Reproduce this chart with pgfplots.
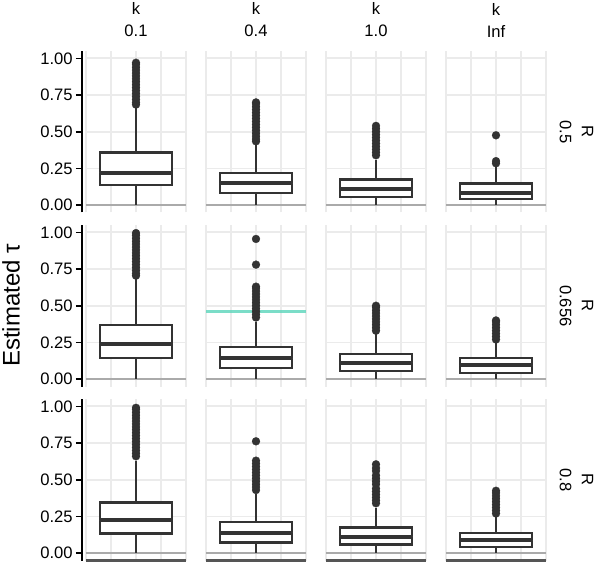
\documentclass[border=0pt]{standalone}
\usepackage{fontspec}
\setmainfont{Liberation Sans}
\usepackage{pgfplots}
\pgfplotsset{compat=1.18}
\usepgfplotslibrary{statistics}
\definecolor{boxc}{HTML}{333333}
\definecolor{gridc}{HTML}{EBEBEB}
\definecolor{zeroc}{HTML}{AAAAAA}
\definecolor{botc}{HTML}{555555}
\definecolor{tealc}{RGB}{100,215,190}
\newcommand\tickfont{\fontsize{8.3}{10}\selectfont}
\newcommand\stripfont{\fontsize{8.3}{11}\selectfont}
\pgfplotsset{
 panel/.style={scale only axis, width=50pt, height=80.75pt, anchor=south west,
  xmin=0,xmax=4,ymin=-0.05,ymax=1.05,
  xtick={0,1,2,3,4}, xticklabels={}, xtick style={draw=none},
  ytick={0,0.25,0.5,0.75,1}, yticklabels={0.00,0.25,0.50,0.75,1.00},
  grid=major, major grid style={draw=gridc, line width=0.9pt},
  axis x line*=bottom, axis y line*=left,
  x axis line style={draw=none},
  tick align=outside, major tick length=3pt,
  ytick style={draw=black, line width=0.8pt},
  yticklabel style={font=\tickfont, inner sep=1.5pt},
  /pgf/number format/assume math mode=true,
 },
 firstcol/.style={axis y line shift=2pt, y axis line style={draw=black, line width=0.8pt}},
 othercol/.style={y axis line style={draw=none}, ytick style={draw=none}, yticklabels={}},
 lastrow/.style={x axis line style={draw=botc, line width=1.5pt}},
 bx/.style={draw=boxc, fill=white, line width=1.1pt, solid, mark=*, mark size=2pt,
   mark options={fill=boxc, draw=boxc, line width=0.1pt},
   boxplot/draw direction=y, boxplot/draw position=2, boxplot/box extend=2.9,
   boxplot/whisker extend=0,
   boxplot/every median/.style={line width=2pt}},
}
% #1 x, #2 y, #3 style, #4 lq, #5 median, #6 uq, #7 upper whisker, #8 outliers, #9 extra
\newcommand\panel[9]{%
 \begin{axis}[panel,#3,at={(#1,#2)}]
 \addplot[draw=zeroc, line width=1.1pt, forget plot] coordinates {(0,0) (4,0)};
 \addplot[bx, boxplot prepared={lower whisker=0, lower quartile=#4, median=#5, upper quartile=#6, upper whisker=#7}] table[row sep=\\, y index=0] {#8};
 #9
 \end{axis}}
\begin{document}
\begin{tikzpicture}
\useasboundingbox (0,0) rectangle (300pt,281.5pt);
% Row 1: R = 0.5
\panel{43pt}{175.25pt}{firstcol}{0.14}{0.22}{0.358}{0.66}{0.685\\0.70\\0.72\\0.74\\0.76\\0.78\\0.80\\0.82\\0.84\\0.86\\0.88\\0.90\\0.92\\0.94\\0.96\\0.97\\}{}
\panel{103pt}{175.25pt}{othercol}{0.084}{0.148}{0.22}{0.42}{0.435\\0.45\\0.47\\0.49\\0.51\\0.53\\0.55\\0.57\\0.59\\0.61\\0.63\\0.65\\0.67\\0.69\\0.70\\}{}
\panel{163pt}{175.25pt}{othercol}{0.057}{0.109}{0.175}{0.31}{0.34\\0.36\\0.38\\0.40\\0.42\\0.44\\0.46\\0.48\\0.50\\0.52\\0.54\\}{}
\panel{223pt}{175.25pt}{othercol}{0.043}{0.086}{0.148}{0.26}{0.285\\0.30\\0.476\\}{}
% Row 2: R = 0.656
\panel{43pt}{88.25pt}{firstcol}{0.142}{0.24}{0.37}{0.68}{0.705\\0.72\\0.74\\0.76\\0.78\\0.80\\0.82\\0.84\\0.86\\0.88\\0.90\\0.92\\0.94\\0.96\\0.98\\0.995\\}{}
\panel{103pt}{88.25pt}{othercol}{0.077}{0.142}{0.217}{0.39}{0.42\\0.44\\0.46\\0.48\\0.50\\0.52\\0.54\\0.56\\0.58\\0.60\\0.62\\0.63\\0.78\\0.955\\}{\addplot[draw=tealc, line width=1.5pt, opacity=0.85] coordinates {(0,0.46) (4,0.46)};}
\panel{163pt}{88.25pt}{othercol}{0.055}{0.112}{0.171}{0.31}{0.33\\0.35\\0.37\\0.39\\0.41\\0.43\\0.45\\0.47\\0.49\\0.50\\}{}
\panel{223pt}{88.25pt}{othercol}{0.043}{0.096}{0.146}{0.245}{0.27\\0.29\\0.31\\0.33\\0.35\\0.37\\0.39\\0.40\\}{}
% Row 3: R = 0.8
\panel{43pt}{1.25pt}{firstcol,lastrow}{0.134}{0.224}{0.345}{0.63}{0.66\\0.68\\0.70\\0.72\\0.74\\0.76\\0.78\\0.80\\0.82\\0.84\\0.86\\0.88\\0.90\\0.92\\0.94\\0.96\\0.98\\0.99\\}{}
\panel{103pt}{1.25pt}{othercol,lastrow}{0.073}{0.138}{0.213}{0.40}{0.43\\0.45\\0.47\\0.49\\0.51\\0.53\\0.55\\0.57\\0.59\\0.61\\0.63\\0.762\\}{}
\panel{163pt}{1.25pt}{othercol,lastrow}{0.059}{0.111}{0.175}{0.31}{0.34\\0.36\\0.38\\0.40\\0.42\\0.44\\0.47\\0.49\\0.51\\0.53\\0.56\\0.58\\0.605\\}{}
\panel{223pt}{1.25pt}{othercol,lastrow}{0.043}{0.088}{0.138}{0.245}{0.27\\0.29\\0.31\\0.33\\0.35\\0.37\\0.39\\0.41\\0.425\\}{}
% strips
\node[align=center, font=\stripfont] at (68pt,271.5pt) {k\\0.1};
\node[align=center, font=\stripfont] at (128pt,271.5pt) {k\\0.4};
\node[align=center, font=\stripfont] at (188pt,271.5pt) {k\\1.0};
\node[align=center, font=\stripfont] at (248pt,271.5pt) {k\\Inf};
\node[align=center, font=\stripfont, rotate=-90] at (288.25pt,215.6pt) {R\\0.5};
\node[align=center, font=\stripfont, rotate=-90] at (288.25pt,128.6pt) {R\\0.656};
\node[align=center, font=\stripfont, rotate=-90] at (288.25pt,41.6pt) {R\\0.8};
\node[rotate=90, font=\fontsize{12}{14}\selectfont] at (5.5pt,128.75pt) {Estimated τ};
\end{tikzpicture}
\end{document}
